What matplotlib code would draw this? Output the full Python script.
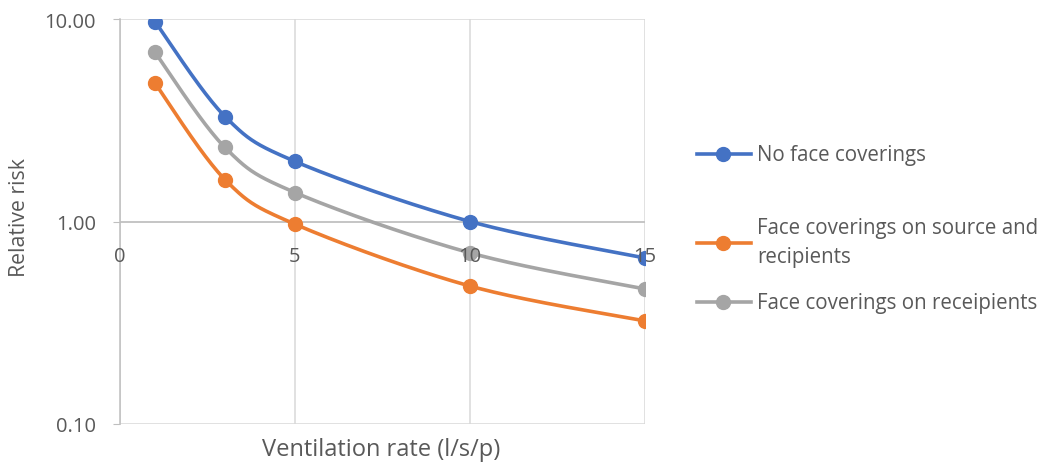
import matplotlib
matplotlib.use("Agg")
import matplotlib.pyplot as plt
from matplotlib.lines import Line2D
import numpy as np

# data
vent_rate = [1, 3, 5, 10, 15]
no_cover = [9.7, 3.30, 1.98, 1.0, 0.66]
cover_both = [4.82, 1.61, 0.97, 0.48, 0.323]
cover_recip = [6.84, 2.32, 1.39, 0.70, 0.464]

labels = ["No face coverings",
          "Face coverings on source and\nrecipients",
          "Face coverings on receipients"]
colors = ["#4472C4", "#ED7D31", "#A5A5A5"]

plt.rcParams['font.family'] = ['Open Sans', 'DejaVu Sans']
txt_col = "#595959"


def smooth(xs, ys, n=40):
    # Excel-like smoothed line: cubic bezier through points, done in (x, log y)
    px = np.array(xs, dtype=float)
    py = np.log10(np.array(ys, dtype=float))
    outx, outy = [], []
    m = len(px)
    for i in range(m - 1):
        p0 = (px[max(i - 1, 0)], py[max(i - 1, 0)])
        p1 = (px[i], py[i])
        p2 = (px[i + 1], py[i + 1])
        p3 = (px[min(i + 2, m - 1)], py[min(i + 2, m - 1)])
        c1 = (p1[0] + (p2[0] - p0[0]) / 6, p1[1] + (p2[1] - p0[1]) / 6)
        c2 = (p2[0] - (p3[0] - p1[0]) / 6, p2[1] - (p3[1] - p1[1]) / 6)
        t = np.linspace(0, 1, n)
        bx = (1-t)**3*p1[0] + 3*(1-t)**2*t*c1[0] + 3*(1-t)*t**2*c2[0] + t**3*p2[0]
        by = (1-t)**3*p1[1] + 3*(1-t)**2*t*c1[1] + 3*(1-t)*t**2*c2[1] + t**3*p2[1]
        outx.extend(bx)
        outy.extend(by)
    return np.array(outx), 10 ** np.array(outy)


fig = plt.figure(figsize=(10.46, 4.64), dpi=100)
ax = fig.add_axes([120/1046, 1 - 425/464, 525/1046, 405/464])

for ys, c in zip([no_cover, cover_both, cover_recip], colors):
    sx, sy = smooth(vent_rate, ys)
    ax.plot(sx, sy, color=c, lw=2.6, solid_capstyle='round', zorder=3)
    ax.plot(vent_rate, ys, 'o', color=c, ms=10, zorder=4)

ax.set_yscale('log')
ax.set_ylim(0.1, 10)
ax.set_xlim(0, 15)
ax.set_yticks([0.1, 1, 10])
ax.set_yticklabels(["0.10", "1.00", "10.00"])
ax.minorticks_off()
ax.set_xticks([0, 5, 10, 15])
ax.set_xticklabels([])

ax.grid(True, color="#D9D9D9", lw=1.1)
ax.set_axisbelow(True)
for s in ['top', 'right', 'bottom']:
    ax.spines[s].set_visible(False)
ax.spines['left'].set_color("#BFBFBF")
ax.spines['left'].set_linewidth(1.1)
ax.axhline(1, color="#BFBFBF", lw=1.1, zorder=1)

ax.tick_params(axis='y', length=5, color="#BFBFBF", labelsize=14.5,
               labelcolor=txt_col, pad=12.5)
ax.tick_params(axis='x', length=0)

# x tick labels sit on the axis crossing at y=1
for xv in [0, 5, 10, 15]:
    ax.annotate(str(xv), (xv, 1), xytext=(0, -24.5), textcoords='offset points',
                ha='center', va='center', fontsize=14.5, color=txt_col,
                zorder=5)

fig.text(20/1046, 1 - 217.5/464, "Relative risk", rotation=90, ha='center',
         va='center', fontsize=15.3, color=txt_col)
fig.text(381.5/1046, 1 - 450/464, "Ventilation rate (l/s/p)", ha='center',
         va='center', fontsize=17, color=txt_col)

# legend on the right, placed like Excel's
rows = [155, 243.5, 303]
for lab, c, yp in zip(labels, colors, rows):
    yy = 1 - yp / 464
    fig.add_artist(Line2D([697/1046, 751/1046], [yy, yy], color=c, lw=2.6,
                          transform=fig.transFigure))
    fig.add_artist(Line2D([723/1046], [yy], marker='o', color=c, ms=10,
                          transform=fig.transFigure))
    fig.text(757/1046, yy, lab, ha='left', va='center', fontsize=14.8,
             color=txt_col, linespacing=1.5)

fig.savefig("out.png", dpi=100)
